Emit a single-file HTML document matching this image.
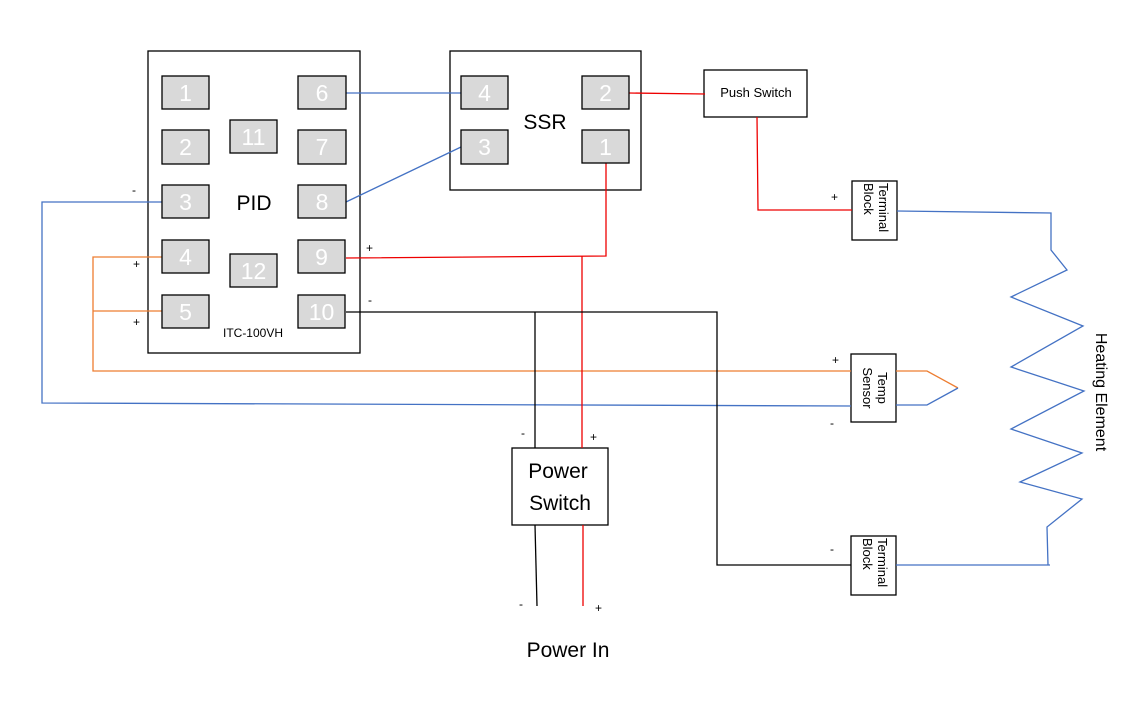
<!DOCTYPE html>
<html><head><meta charset="utf-8"><style>
html,body{margin:0;padding:0;background:#fff}
svg{display:block;font-family:"Liberation Sans","DejaVu Sans",sans-serif}
.pin{fill:#d9d9d9;stroke:#000;stroke-width:1.3}
.pt{fill:#fff;font-size:23px;text-anchor:middle}
.box{fill:#fff;stroke:#000;stroke-width:1.3}
.s{font-size:12px;fill:#000}
</style></head><body>
<svg width="1128" height="701" viewBox="0 0 1128 701" xmlns="http://www.w3.org/2000/svg">
<!-- boxes first -->
<rect class="box" x="148" y="51" width="212" height="302"/>
<rect class="box" x="450" y="51" width="191" height="139"/>
<rect class="box" x="704" y="70" width="103" height="47"/>
<rect class="box" x="852" y="181" width="45" height="59"/>
<rect class="box" x="851" y="354" width="45" height="68"/>
<rect class="box" x="851" y="536" width="45" height="59"/>
<rect class="box" x="512" y="448" width="96" height="77"/>
<g fill="none" stroke-width="1.3">
<polyline points="162,202 42,202 42,403 851,406" stroke="#4472c4"/>
<polyline points="162,257 93,257 93,371 851,371" stroke="#ed7d31"/>
<polyline points="93,311 162,311" stroke="#ed7d31"/>
<polyline points="346,93 461,93" stroke="#4472c4"/>
<polyline points="346,202 461,147" stroke="#4472c4"/>
<polyline points="629,93 705,94" stroke="#e00"/>
<polyline points="757,117 758,210 852,210" stroke="#e00"/>
<polyline points="346,258 606,256 606,163" stroke="#e00"/>
<polyline points="582,256 582,448" stroke="#e00"/>
<polyline points="583,525 583,606" stroke="#e00"/>
<polyline points="346,312 717,312 717,565 851,565" stroke="#000"/>
<polyline points="535,312 535,448" stroke="#000"/>
<polyline points="535,525 537,606" stroke="#000"/>
<polyline points="897,211 1051,213 1051,250 1067,270 1011,297 1083,326 1011,367 1084,391 1011,429 1082,453 1020,482 1082,499 1047,527 1048,565" stroke="#4472c4"/>
<polyline points="896,565 1050,565" stroke="#4472c4"/>
<polyline points="896,371 927,371 958,388" stroke="#ed7d31"/>
<polyline points="896,405 927,405 958,388" stroke="#4472c4"/>
</g>
<rect class="pin" x="162" y="76" width="47" height="33"/><text class="pt" x="185.5" y="101">1</text>
<rect class="pin" x="162" y="130" width="47" height="34"/><text class="pt" x="185.5" y="155">2</text>
<rect class="pin" x="162" y="185" width="47" height="33"/><text class="pt" x="185.5" y="210">3</text>
<rect class="pin" x="162" y="240" width="47" height="33"/><text class="pt" x="185.5" y="265">4</text>
<rect class="pin" x="162" y="295" width="47" height="33"/><text class="pt" x="185.5" y="320">5</text>
<rect class="pin" x="230" y="120" width="47" height="33"/><text class="pt" x="253.5" y="145">11</text>
<rect class="pin" x="230" y="254" width="47" height="33"/><text class="pt" x="253.5" y="279">12</text>
<rect class="pin" x="298" y="76" width="48" height="33"/><text class="pt" x="322" y="101">6</text>
<rect class="pin" x="298" y="130" width="48" height="34"/><text class="pt" x="322" y="155">7</text>
<rect class="pin" x="298" y="185" width="48" height="33"/><text class="pt" x="322" y="210">8</text>
<rect class="pin" x="298" y="240" width="47" height="33"/><text class="pt" x="321.5" y="265">9</text>
<rect class="pin" x="298" y="295" width="47" height="33"/><text class="pt" x="321.5" y="320">10</text>
<text x="254" y="210" font-size="21" text-anchor="middle">PID</text>
<text x="253" y="337" font-size="12" text-anchor="middle">ITC-100VH</text>
<rect class="pin" x="461" y="76" width="47" height="33"/><text class="pt" x="484.5" y="101">4</text>
<rect class="pin" x="461" y="130" width="47" height="34"/><text class="pt" x="484.5" y="155">3</text>
<rect class="pin" x="582" y="76" width="47" height="33"/><text class="pt" x="605.5" y="101">2</text>
<rect class="pin" x="582" y="130" width="47" height="33"/><text class="pt" x="605.5" y="155">1</text>
<text x="545" y="129" font-size="21" text-anchor="middle">SSR</text>
<text x="756" y="97" font-size="13" text-anchor="middle">Push Switch</text>
<text font-size="13" transform="translate(874,183) rotate(90)"><tspan x="0" y="-5">Terminal</tspan><tspan x="0" y="10">Block</tspan></text>
<text font-size="13" transform="translate(873,388) rotate(90)" text-anchor="middle"><tspan x="0" y="-5">Temp</tspan><tspan x="0" y="10">Sensor</tspan></text>
<text font-size="13" transform="translate(873,538) rotate(90)"><tspan x="0" y="-5">Terminal</tspan><tspan x="0" y="10">Block</tspan></text>
<text x="558" y="478" font-size="21" text-anchor="middle">Power</text>
<text x="560" y="510" font-size="21" text-anchor="middle">Switch</text>
<text x="568" y="657" font-size="21" text-anchor="middle">Power In</text>
<text font-size="16" transform="translate(1096,392) rotate(90)" text-anchor="middle">Heating Element</text>
<text class="s" x="132" y="194">-</text>
<text class="s" x="133" y="268">+</text>
<text class="s" x="133" y="326">+</text>
<text class="s" x="366" y="252">+</text>
<text class="s" x="368" y="304">-</text>
<text class="s" x="831" y="201">+</text>
<text class="s" x="832" y="364">+</text>
<text class="s" x="830" y="427">-</text>
<text class="s" x="830" y="553">-</text>
<text class="s" x="521" y="437">-</text>
<text class="s" x="590" y="441">+</text>
<text class="s" x="519" y="608">-</text>
<text class="s" x="595" y="612">+</text>
</svg>
</body></html>
